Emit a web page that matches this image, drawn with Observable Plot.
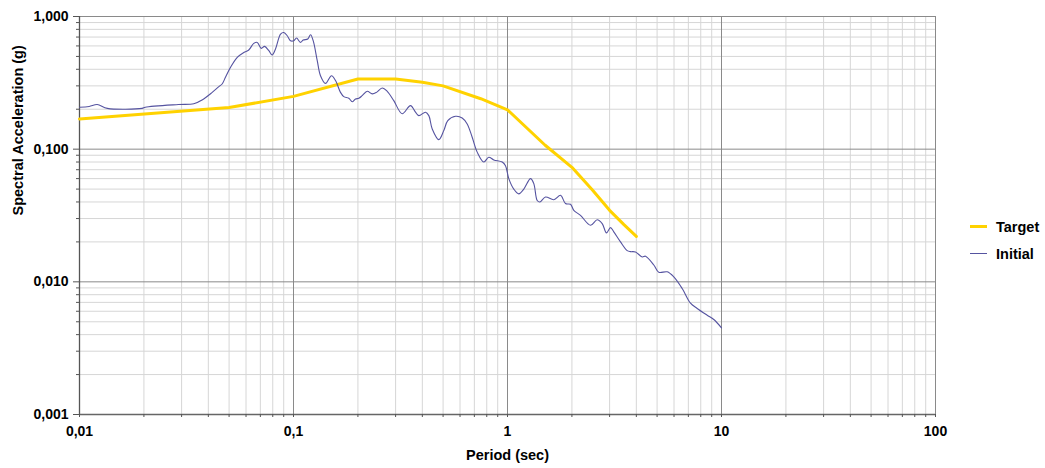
<!DOCTYPE html>
<html>
<head>
<meta charset="utf-8">
<script src="https://cdn.jsdelivr.net/npm/d3@7"></script>
<script src="https://cdn.jsdelivr.net/npm/@observablehq/plot@0.6"></script>
<style>
  body { margin: 0; background: #fff; font-family: "Liberation Sans", Arial, sans-serif; }
  #wrap { position: relative; width: 1045px; height: 468px; }
  #legend { position: absolute; left: 970px; top: 213px; font-weight: bold; font-size: 14.5px; color: #000; }
  .item { display: flex; align-items: center; height: 27px; }
  .sw { width: 17px; margin-right: 9px; }
</style>
</head>
<body>
<div id="wrap">
  <div id="legend"></div>
</div>
<script>
// ---- Data ----
const seriesNames = ["Target", "Initial"];
const seriesColors = ["#ffd200", "#5553a0"];

const targetPeriod = [0.01, 0.05, 0.1, 0.2, 0.3, 0.4, 0.5, 0.75, 1, 1.5, 2, 2.5, 3, 3.5, 4];
const targetSa     = [0.169, 0.206, 0.25, 0.338, 0.338, 0.32, 0.30, 0.24, 0.198, 0.107, 0.073, 0.049, 0.0346, 0.027, 0.022];

const initialPeriod = [
  0.01, 0.0111, 0.0121, 0.0135, 0.0196, 0.0203, 0.029, 0.0342, 0.0374, 0.0417, 0.0448, 0.0464, 0.0481,
  0.0508, 0.0546, 0.0586, 0.0618, 0.0652, 0.0677, 0.0707, 0.0732, 0.0767, 0.0795, 0.0824, 0.087, 0.0901,
  0.0935, 0.0968, 0.1003, 0.1033, 0.1078, 0.111, 0.1166, 0.1201, 0.1236, 0.1291, 0.1337, 0.1411, 0.1505,
  0.1572, 0.1658, 0.1718, 0.1813, 0.1881, 0.1949, 0.2019, 0.2094, 0.2211, 0.2333, 0.2443, 0.2597, 0.2741,
  0.2942, 0.322, 0.3521, 0.3716, 0.3851, 0.414, 0.4289, 0.4449, 0.4775, 0.5039, 0.526, 0.5715, 0.6141,
  0.6481, 0.6839, 0.7217, 0.7751, 0.8177, 0.863, 0.9446, 0.9787, 1.014, 1.07, 1.129, 1.192, 1.281, 1.327,
  1.377, 1.416, 1.505, 1.646, 1.769, 1.866, 1.97, 2.041, 2.193, 2.443, 2.626, 2.77, 2.901, 3.029, 3.138,
  3.373, 3.625, 3.756, 3.963, 4.26, 4.415, 4.827, 5.093, 5.575, 5.985, 6.552, 7.164, 7.698, 8.574, 9.205, 10
];
const initialSa = [
  0.207, 0.210, 0.217, 0.203, 0.203, 0.207, 0.217, 0.220, 0.235, 0.268, 0.296, 0.310, 0.348,
  0.414, 0.492, 0.536, 0.559, 0.627, 0.638, 0.575, 0.595, 0.552, 0.513, 0.569, 0.737, 0.758,
  0.716, 0.657, 0.657, 0.688, 0.638, 0.665, 0.676, 0.728, 0.657, 0.465, 0.358, 0.313, 0.358,
  0.329, 0.268, 0.249, 0.242, 0.228, 0.239, 0.242, 0.253, 0.273, 0.261, 0.268, 0.289, 0.273,
  0.232, 0.185, 0.213, 0.190, 0.179, 0.190, 0.179, 0.142, 0.118, 0.138, 0.164, 0.177, 0.172,
  0.155, 0.123, 0.095, 0.080, 0.087, 0.083, 0.080, 0.075, 0.060, 0.050, 0.046, 0.050, 0.060, 0.055,
  0.041, 0.040, 0.0436, 0.0416, 0.0449, 0.0389, 0.0384, 0.0346, 0.0317, 0.0267, 0.0294, 0.0275, 0.0234, 0.0256, 0.0238,
  0.0200, 0.0172, 0.0169, 0.0168, 0.0154, 0.0156, 0.0134, 0.0118, 0.0119, 0.0109, 0.0089, 0.0069, 0.0063, 0.0056, 0.0052, 0.0045
];

const xTickValues = [0.01, 0.1, 1, 10, 100];
const xTickLabels = ["0,01", "0,1", "1", "10", "100"];
const yTickValues = [0.001, 0.01, 0.1, 1];
const yTickLabels = ["0,001", "0,010", "0,100", "1,000"];
const xLabel = "Period (sec)";
const yLabel = "Spectral Acceleration (g)";

// ---- Build tables ----
const target = targetPeriod.map((t, i) => ({ period: t, sa: targetSa[i] }));
const initial = initialPeriod.map((t, i) => ({ period: t, sa: initialSa[i] }));

// minor grid positions: 2..9 x 10^k within each decade
function minors(majors) {
  const out = [];
  for (let i = 0; i < majors.length - 1; i++)
    for (let m = 2; m <= 9; m++) out.push(majors[i] * m);
  return out;
}
const xMinor = minors(xTickValues);
const yMinor = minors(yTickValues);
const xAll = xMinor.concat(xTickValues);
const xFmt = new Map(xTickValues.map((v, i) => [v, xTickLabels[i]]));
const yFmt = new Map(yTickValues.map((v, i) => [v, yTickLabels[i]]));

const chart = Plot.plot({
  width: 1045,
  height: 468,
  marginLeft: 79,
  marginRight: 110,
  marginTop: 16,
  marginBottom: 54,
  x: { type: "log", domain: [0.01, 100] },
  y: { type: "log", domain: [0.001, 1] },
  style: { fontFamily: "'Liberation Sans', Arial, sans-serif", fontSize: "14px", fontWeight: "bold", color: "#000", background: "#fff", overflow: "visible" },
  marks: [
    Plot.ruleX(xMinor, { stroke: "#d6d6d6", strokeWidth: 1 }),
    Plot.ruleY(yMinor, { stroke: "#d6d6d6", strokeWidth: 1 }),
    Plot.ruleX(xTickValues, { stroke: "#8a8a8a", strokeWidth: 1 }),
    Plot.ruleY(yTickValues, { stroke: "#8a8a8a", strokeWidth: 1 }),
    Plot.ruleX([0.01], { stroke: "#555", strokeWidth: 1.3 }),
    Plot.ruleY([0.001], { stroke: "#666", strokeWidth: 1.3 }),
    Plot.axisX(xAll, { tickSize: 3, stroke: "#555", tickFormat: d => "", label: null }),
    Plot.axisX(xTickValues, { tickSize: 3, tickPadding: 9, stroke: "#555", tickFormat: d => xFmt.get(d), label: null }),
    Plot.axisY(yMinor, { tickSize: 3, stroke: "#555", tickFormat: d => "", label: null }),
    Plot.axisY(yTickValues, { tickSize: 6, tickPadding: 5, stroke: "#555", tickFormat: d => yFmt.get(d), label: null }),
    Plot.line(target, { x: "period", y: "sa", stroke: seriesColors[0], strokeWidth: 3, strokeLinejoin: "round" }),
    Plot.line(initial, { x: "period", y: "sa", stroke: seriesColors[1], strokeWidth: 1.1, strokeLinejoin: "round", curve: "catmull-rom" }),
    Plot.text([xLabel], { frameAnchor: "bottom", dy: 45, fontSize: 14.5, fontWeight: "bold" }),
    Plot.text([yLabel], { frameAnchor: "left", dx: -61, rotate: -90, fontSize: 14.5, fontWeight: "bold" })
  ]
});
document.getElementById("wrap").prepend(chart);

// legend
const legend = document.getElementById("legend");
seriesNames.forEach((name, i) => {
  const item = document.createElement("div");
  item.className = "item";
  const sw = document.createElement("div");
  sw.className = "sw";
  sw.style.borderTop = `${i === 0 ? 3 : 1.2}px solid ${seriesColors[i]}`;
  const label = document.createElement("span");
  label.textContent = name;
  item.append(sw, label);
  legend.append(item);
});
</script>
</body>
</html>
